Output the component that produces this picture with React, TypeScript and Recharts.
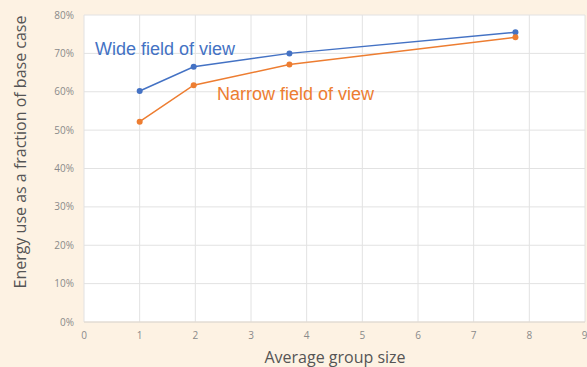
import { LineChart, Line, XAxis, YAxis, CartesianGrid } from "recharts";

const xTicks = [0, 1, 2, 3, 4, 5, 6, 7, 8, 9];
const yTicks = [0, 0.1, 0.2, 0.3, 0.4, 0.5, 0.6, 0.7, 0.8];

const groupSize = [1, 1.97, 3.69, 7.75];
const wideFov = [0.602, 0.665, 0.7, 0.755];
const narrowFov = [0.522, 0.617, 0.671, 0.742];

const wideData = groupSize.map((x, i) => ({ x, y: wideFov[i] }));
const narrowData = groupSize.map((x, i) => ({ x, y: narrowFov[i] }));

const BLUE = "#4472c4";
const ORANGE = "#ed7d31";
const TICK = { fontSize: 10, fill: "#8a8a8a", fontFamily: "Open Sans" };

export default function App() {
  return (
    <div
      style={{
        position: "fixed",
        left: 0,
        top: 0,
        width: 587,
        height: 367,
        background: "#fdf2e3",
        overflow: "hidden",
      }}
    >
      <LineChart width={587} height={367} margin={{ top: 15, right: 2, bottom: 15, left: 0 }}>
        <CartesianGrid fill="#ffffff" stroke="#e2e2e2" />
        <XAxis
          type="number"
          dataKey="x"
          domain={[0, 9]}
          ticks={xTicks}
          tick={TICK}
          tickLine={false}
          axisLine={{ stroke: "#e2d8cc" }}
          tickSize={0}
          tickMargin={10}
          height={30}
          allowDuplicatedCategory={false}
        />
        <YAxis
          type="number"
          dataKey="y"
          domain={[0, 0.8]}
          ticks={yTicks}
          tickFormatter={(v: number) => `${Math.round(v * 100)}%`}
          tick={TICK}
          tickLine={false}
          axisLine={false}
          tickSize={0}
          tickMargin={10}
          width={84}
        />
        <Line
          data={wideData}
          dataKey="y"
          stroke={BLUE}
          strokeWidth={1.5}
          dot={{ r: 3, fill: BLUE, stroke: BLUE, strokeWidth: 0 }}
          isAnimationActive={false}
        />
        <Line
          data={narrowData}
          dataKey="y"
          stroke={ORANGE}
          strokeWidth={1.5}
          dot={{ r: 3, fill: ORANGE, stroke: ORANGE, strokeWidth: 0 }}
          isAnimationActive={false}
        />
      </LineChart>
      <div
        style={{
          position: "absolute",
          left: 95,
          top: 39,
          color: BLUE,
          fontFamily: "Liberation Sans",
          fontSize: 18,
          lineHeight: "20px",
          whiteSpace: "nowrap",
        }}
      >
        Wide field of view
      </div>
      <div
        style={{
          position: "absolute",
          left: 217,
          top: 84,
          color: ORANGE,
          fontFamily: "Liberation Sans",
          fontSize: 18,
          lineHeight: "20px",
          whiteSpace: "nowrap",
        }}
      >
        Narrow field of view
      </div>
      <div
        style={{
          position: "absolute",
          left: 20,
          top: 152,
          transform: "translate(-50%, -50%) rotate(-90deg)",
          color: "#555",
          fontFamily: "Open Sans",
          fontSize: 16,
          whiteSpace: "nowrap",
        }}
      >
        Energy use as a fraction of base case
      </div>
      <div
        style={{
          position: "absolute",
          left: 335,
          top: 357,
          transform: "translate(-50%, -50%)",
          color: "#555",
          fontFamily: "Open Sans",
          fontSize: 16,
          whiteSpace: "nowrap",
        }}
      >
        Average group size
      </div>
    </div>
  );
}
